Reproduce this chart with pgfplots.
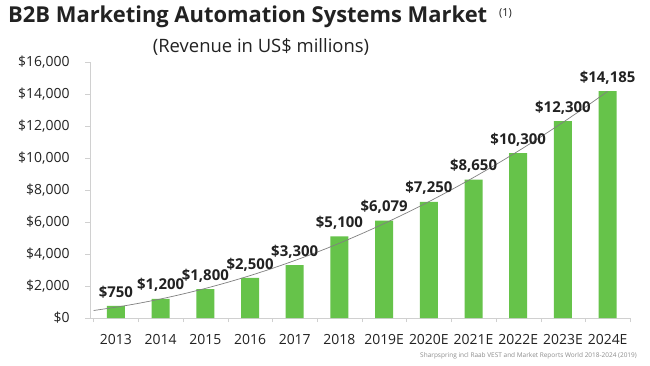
\documentclass[border=0pt]{standalone}
\usepackage{pgfplots}
\pgfplotsset{compat=1.18}
\usepackage{fontspec}
\setmainfont{Open Sans}
\definecolor{bargreen}{HTML}{66C34A}
\definecolor{axgray}{HTML}{D0D0D0}
\definecolor{txt}{HTML}{222222}
\pgfplotstableread{
x y
0 750
1 1200
2 1800
3 2500
4 3300
5 5100
6 6079
7 7250
8 8650
9 10300
10 12300
11 14185
}\revenue
\pgfplotstableread{
x y
-0.5 469
0 674
0.5 914
1 1190
1.5 1502
2 1849
2.5 2231
3 2649
3.5 3103
4 3592
4.5 4116
5 4676
5.5 5272
6 5903
6.5 6569
7 7271
7.5 8009
8 8782
8.5 9590
9 10434
9.5 11314
10 12229
10.5 13179
11 14165
}\trend
\begin{document}
\begin{tikzpicture}
\path[use as bounding box, fill=white] (0bp,0bp) rectangle (650bp,366bp);
\node[anchor=base west, font=\fontsize{22}{25}\selectfont\bfseries, text=txt, inner sep=0] at (8bp,343bp) {B2B Marketing Automation Systems Market};
\node[anchor=base west, font=\fontsize{11}{13}\selectfont, text=txt, inner sep=0] at (499bp,349bp) {(1)};
\node[anchor=base, font=\fontsize{18.5}{21}\selectfont, text=txt, inner sep=0] at (261bp,313bp) {(Revenue in US\$ millions)};
\node[anchor=base east, font=\fontsize{6.5}{8}\selectfont, text=gray!90, inner sep=0] at (637bp,9bp) {Sharpspring incl Raab VEST and Market Reports World 2018-2024 (2019)};
\begin{axis}[
  at={(90bp,48bp)}, anchor=south west,
  scale only axis, width=540bp, height=256bp,
  xmin=-0.58, xmax=11.5, ymin=0, ymax=16000,
  axis lines=left,
  axis line style={axgray, -},
  xtick={0,...,11},
  xticklabels={2013,2014,2015,2016,2017,2018,2019E,2020E,2021E,2022E,2023E,2024E},
  minor xtick={-0.5,0.5,...,11.5},
  major x tick style={draw=none},
  minor tick length=4bp,
  major tick length=5bp,
  tick align=outside,
  tick style={axgray},
  ytick={0,2000,...,16000},
  yticklabel={\$\pgfmathprintnumber{\tick}},
  /pgf/number format/.cd, 1000 sep={,}, fixed, assume math mode=true, /pgfplots/.cd,
  scaled y ticks=false,
  tick label style={font=\fontsize{14}{16}\selectfont, text=txt},
  yticklabel style={xshift=-12bp},
  xticklabel style={yshift=-8bp},
  clip=false,
]
\addplot[ybar, bar width=18bp, fill=bargreen, draw=none,
  nodes near coords={\textbf{\$\pgfmathprintnumber{\pgfplotspointmeta}}},
  nodes near coords style={font=\fontsize{15}{17}\selectfont, text=txt, anchor=base, yshift=9bp, /pgf/number format/.cd, 1000 sep={,}, fixed, assume math mode=true}
] table[x=x,y=y] {\revenue};
\addplot[no marks, draw=gray, line width=0.7bp, smooth] table[x=x,y=y] {\trend};
\end{axis}
\end{tikzpicture}
\end{document}
